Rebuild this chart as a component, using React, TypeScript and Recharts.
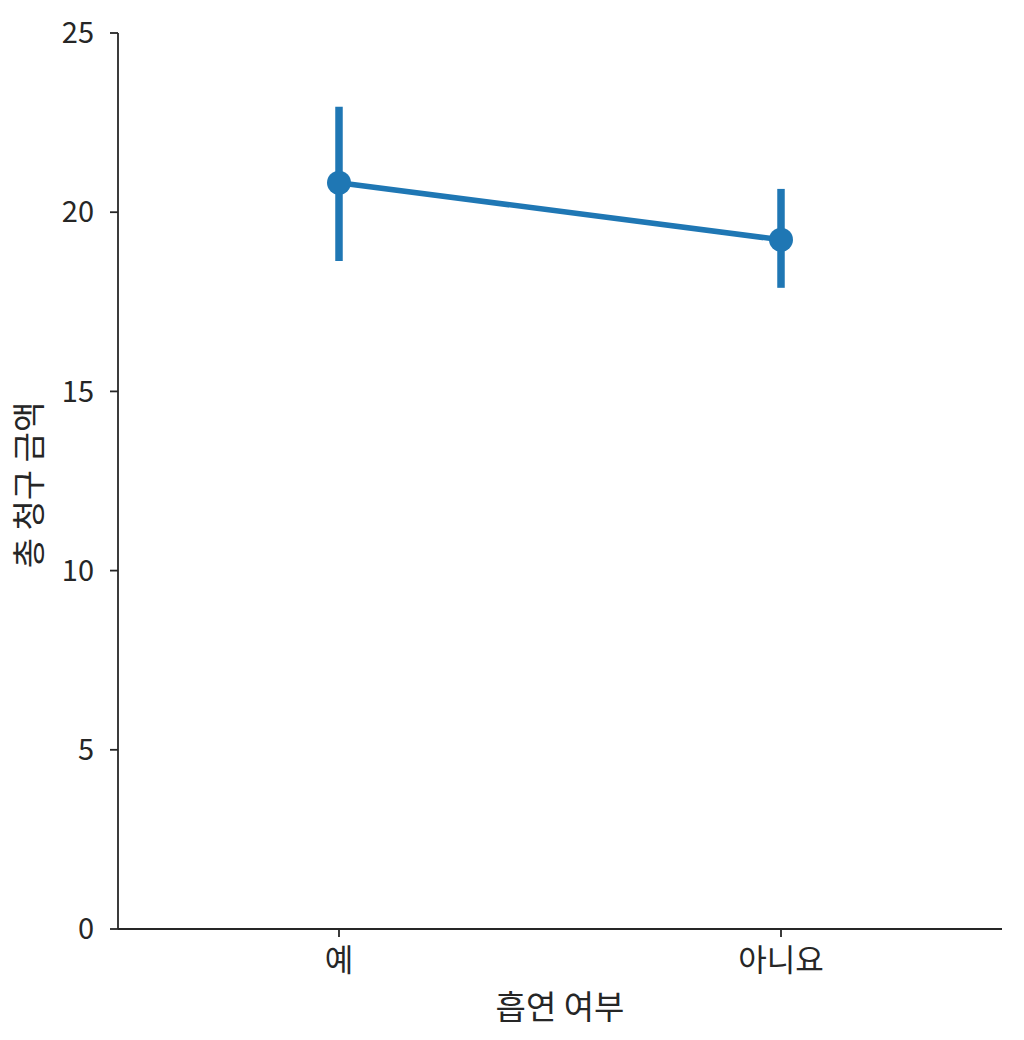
import { LineChart, Line, XAxis, YAxis, ErrorBar, Label } from "recharts";

const CATEGORIES = ["예", "아니요"];
const MEANS = [20.82, 19.23];
const CI_LOW = [18.64, 17.89];
const CI_HIGH = [22.94, 20.65];
const Y_TICKS = [0, 5, 10, 15, 20, 25];

const BLUE = "#1f77b4";
const INK = "#262626";
const FONT = "'Noto Sans CJK KR', 'Noto Sans', sans-serif";

const data = CATEGORIES.map((name, i) => ({
  x: i,
  name,
  mean: MEANS[i],
  err: [MEANS[i] - CI_LOW[i], CI_HIGH[i] - MEANS[i]],
}));

const YLabel = ({ viewBox }: any) => {
  const cx = 27;
  const cy = viewBox.y + viewBox.height / 2 + 4;
  return (
    <text
      x={cx}
      y={cy}
      transform={`rotate(-90 ${cx} ${cy})`}
      textAnchor="middle"
      dominantBaseline="central"
      fontSize={33}
      fontFamily={FONT}
      fill={INK}
    >
      총 청구 금액
    </text>
  );
};

const XLabel = ({ viewBox }: any) => (
  <text
    x={viewBox.x + viewBox.width / 2}
    y={viewBox.y + 76}
    textAnchor="middle"
    dominantBaseline="central"
    fontSize={33}
    fontFamily={FONT}
    fill={INK}
  >
    흡연 여부
  </text>
);

export default function App() {
  return (
    <div style={{ position: "absolute", left: 0, top: 0, background: "#fff" }}>
      <LineChart
        width={1024}
        height={1040}
        data={data}
        margin={{ top: 33, right: 22, left: 0, bottom: 0 }}
      >
        <XAxis
          type="number"
          dataKey="x"
          domain={[-0.5, 1.5]}
          ticks={[0, 1]}
          tickFormatter={(v: number) => CATEGORIES[v]}
          height={111}
          stroke={INK}
          strokeWidth={1.8}
          tickSize={8}
          tickMargin={12}
          tick={{ fontSize: 31, fill: INK, fontFamily: FONT }}
        >
          <Label content={<XLabel />} />
        </XAxis>
        <YAxis
          type="number"
          domain={[0, 25]}
          ticks={Y_TICKS}
          width={118}
          stroke={INK}
          strokeWidth={1.8}
          tickSize={8}
          tickMargin={16}
          tick={{ fontSize: 29, fill: INK, fontFamily: FONT }}
        >
          <Label content={<YLabel />} />
        </YAxis>
        <Line
          type="linear"
          dataKey="mean"
          stroke={BLUE}
          strokeWidth={5.5}
          dot={{ r: 12, fill: BLUE, stroke: "none" }}
          activeDot={false}
          isAnimationActive={false}
        >
          <ErrorBar dataKey="err" direction="y" width={0} stroke={BLUE} strokeWidth={7.5} />
        </Line>
      </LineChart>
    </div>
  );
}
